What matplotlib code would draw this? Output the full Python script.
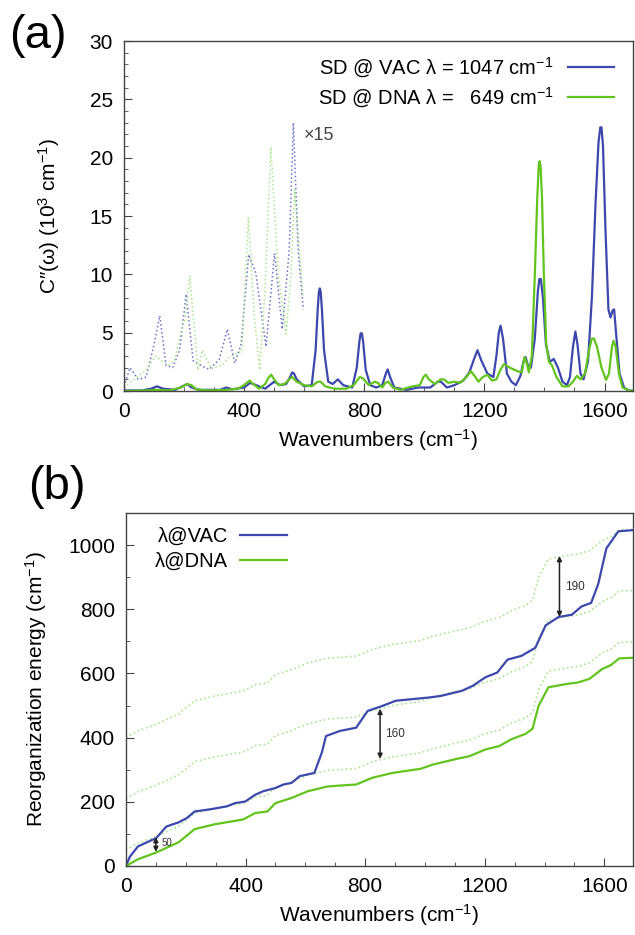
import matplotlib
matplotlib.use('Agg')
import matplotlib.pyplot as plt
from matplotlib.ticker import MultipleLocator
import numpy as np

plt.rcParams['font.family'] = ['Liberation Sans', 'DejaVu Sans']
plt.rcParams['mathtext.fontset'] = 'custom'
plt.rcParams['mathtext.rm'] = 'Liberation Sans'
plt.rcParams['mathtext.it'] = 'Liberation Sans:italic'

BLUE = '#3c48ac'
GREEN = '#62c41c'
LGREEN = '#a8e690'
LBLUE = '#6a72cc'

# ---- panel (a): spectral densities (10^3 cm-1) ----
vac_x = [0, 60, 90, 110, 130, 170, 195, 210, 225, 250, 320, 340, 360, 400, 420, 440, 470, 500, 520, 540,
         555, 560, 566, 575, 600, 625, 638, 645, 649, 652, 655, 659, 666, 680, 695, 712, 730, 760, 775, 784,
         788, 792, 796, 805, 820, 840, 860, 872, 878, 886, 900, 940, 980, 1020, 1045, 1055, 1075, 1100,
         1130, 1150, 1165, 1177, 1190, 1210, 1230, 1240, 1248, 1254, 1262, 1275, 1290, 1305, 1320, 1330,
         1337, 1345, 1355, 1368, 1378, 1383, 1388, 1395, 1405, 1418, 1431, 1445, 1460, 1475, 1485, 1495,
         1503, 1510, 1520, 1530, 1545, 1558, 1570, 1580, 1586, 1590, 1595, 1603, 1613, 1620, 1627, 1632,
         1640, 1650, 1665, 1680, 1700]
vac_y = [0.05, 0.05, 0.2, 0.4, 0.2, 0.1, 0.4, 0.6, 0.3, 0.1, 0.1, 0.3, 0.15, 0.3, 0.7, 0.5, 0.2, 0.8, 0.5, 0.6,
         1.3, 1.6, 1.5, 1.0, 0.4, 0.5, 3.5, 7.0, 8.5, 8.8, 8.5, 7.0, 3.5, 0.8, 0.6, 1.0, 0.5, 0.3, 2.0, 4.3,
         4.95, 4.95, 4.3, 1.8, 0.5, 0.3, 0.5, 1.5, 1.85, 1.2, 0.3, 0.1, 0.3, 0.3, 0.8, 0.8, 0.3, 0.5,
         0.9, 1.6, 2.7, 3.5, 2.6, 1.5, 1.2, 3.0, 5.0, 5.6, 4.5, 1.5, 0.8, 0.5, 1.3, 2.5,
         2.9, 2.2, 2.0, 4.5, 8.5, 9.6, 9.6, 8.0, 4.0, 2.5, 2.75, 2.0, 0.8, 0.5, 1.2, 3.8,
         5.1, 4.0, 1.5, 1.0, 2.5, 8.0, 16.0, 21.3, 22.6, 22.6, 21.0, 14.0, 7.0, 6.3, 6.9, 7.0,
         4.5, 1.5, 0.3, 0.05, 0.0]

dna_x = [0, 80, 110, 150, 190, 210, 225, 240, 280, 340, 380, 405, 418, 430, 450, 470, 480, 490, 500, 515,
         535, 550, 560, 575, 600, 625, 645, 655, 670, 700, 740, 765, 785, 795, 815, 835, 845, 860, 870, 880,
         895, 920, 960, 985, 997, 1005, 1015, 1035, 1055, 1065, 1080, 1100, 1120, 1140, 1155, 1170, 1180,
         1195, 1210, 1225, 1240, 1255, 1265, 1285, 1310, 1325, 1333, 1340, 1348, 1358, 1368, 1376, 1381,
         1384, 1387, 1392, 1398, 1406, 1415, 1425, 1440, 1460, 1480, 1495, 1508, 1520, 1535, 1550, 1558,
         1565, 1575, 1590, 1605, 1615, 1625, 1630, 1637, 1648, 1660, 1680, 1700]
dna_y = [0.0, 0.05, 0.1, 0.05, 0.3, 0.6, 0.5, 0.15, 0.05, 0.1, 0.2, 0.6, 0.9, 0.6, 0.2, 0.6, 1.1, 1.4, 1.0, 0.5,
         0.6, 1.0, 1.2, 0.8, 0.5, 0.4, 0.8, 0.8, 0.4, 0.2, 0.2, 0.5, 1.2, 1.1, 0.5, 0.8, 0.7, 0.3, 0.7, 0.8,
         0.3, 0.1, 0.4, 0.5, 1.2, 1.4, 1.0, 0.6, 1.0, 1.0, 0.7, 0.8, 0.7, 1.2, 1.7, 1.2, 0.8,
         1.2, 1.4, 0.9, 1.0, 1.9, 2.3, 2.0, 1.7, 1.6, 2.9, 2.5, 1.6, 3.0, 10.0, 16.5, 19.3,
         19.7, 19.3, 16.5, 10.0, 4.0, 2.5, 2.2, 1.2, 0.4, 0.4, 0.8, 1.3, 1.0, 1.5, 3.7, 4.5,
         4.5, 3.8, 2.0, 0.95, 1.5, 3.8, 4.3, 3.8, 1.5, 0.3, 0.05, 0.0]

# low-frequency part magnified x15 (already scaled values)
vac15_x = [0, 20, 47, 74, 100, 119, 140, 162, 185, 207, 230, 263, 284, 317, 344, 369, 390, 415, 439,
           473, 501, 527, 550, 564, 580, 597]
vac15_y = [0.4, 2.0, 1.0, 1.2, 4.0, 6.45, 2.2, 2.0, 3.5, 8.3, 2.6, 2.1, 1.85, 2.7, 5.3, 2.4, 4.0, 11.7, 10.1,
           3.8, 11.8, 5.3, 12.0, 23.0, 12.0, 7.0]
dna15_x = [0, 29, 74, 105, 130, 146, 168, 189, 203, 219, 246, 261, 291, 330, 351, 374, 392, 414, 435,
           452, 470, 489, 513, 540, 556, 568, 584, 596]
dna15_y = [0.3, 0.9, 1.8, 3.0, 2.5, 2.2, 2.6, 5.0, 6.1, 9.9, 1.8, 3.5, 1.9, 2.3, 2.9, 3.2, 3.4, 14.9, 6.0,
           1.8, 9.0, 20.9, 10.1, 4.9, 10.0, 17.3, 12.0, 8.1]

# ---- panel (b): cumulative reorganization energy (cm-1) ----
lvac_x = [0, 13, 40, 101, 135, 176, 203, 230, 284, 338, 365, 399, 432, 459, 500, 527, 554, 581, 630,
          655, 669, 716, 770, 808, 858, 902, 1013, 1053, 1124, 1161, 1202, 1242, 1276, 1323, 1369, 1404,
          1447, 1491, 1524, 1556, 1580, 1607, 1647, 1700]
lvac_y = [0, 29, 61, 87, 123, 136, 149, 170, 177, 186, 196, 201, 222, 233, 243, 254, 259, 280, 290,
          353, 405, 421, 431, 483, 499, 515, 525, 530, 546, 562, 588, 603, 643, 655, 680, 750,
          776, 783, 809, 820, 880, 990, 1043, 1047]
ldna_x = [0, 40, 101, 176, 230, 297, 392, 432, 473, 500, 554, 608, 675, 770, 824, 891, 986, 1026, 1107,
          1148, 1202, 1249, 1289, 1337, 1360, 1380, 1413, 1472, 1512, 1550, 1593, 1622, 1650, 1700]
ldna_y = [0, 21, 42, 74, 115, 130, 145, 165, 170, 196, 212, 233, 248, 254, 275, 290, 303, 316, 334,
          342, 363, 374, 395, 412, 428, 499, 557, 567, 572, 583, 614, 626, 647, 649]
shifts = [50, 210, 400]
arrows = [(100, 44, 90, '50'), (850, 334, 490, '160'), (1450, 776, 966, '190')]

fig = plt.figure(figsize=(6.35, 9.35), dpi=100)

# panel (a)
ax1 = fig.add_axes([0.1953, 0.5818, 0.8016, 0.3743])
ax1.plot(vac15_x, vac15_y, ':', color=LBLUE, lw=1.1)
ax1.plot(dna15_x, dna15_y, ':', color=LGREEN, lw=1.1)
ax1.plot(vac_x, vac_y, '-', color=BLUE, lw=1.6, label=r'SD @ VAC λ = 1047 cm$^{-1}$')
ax1.plot(dna_x, dna_y, '-', color=GREEN, lw=1.6, label=r'SD @ DNA λ =   649 cm$^{-1}$')
ax1.text(600, 21.9, '×15', fontsize=13, color='#444444', va='center')
ax1.set_xlim(0, 1695)
ax1.set_ylim(0, 30)
ax1.xaxis.set_major_locator(MultipleLocator(400))
ax1.xaxis.set_minor_locator(MultipleLocator(100))
ax1.yaxis.set_major_locator(MultipleLocator(5))
ax1.yaxis.set_minor_locator(MultipleLocator(1))
ax1.set_xlabel(r'Wavenumbers (cm$^{-1}$)', fontsize=15, labelpad=4)
ax1.set_ylabel(r'C″(ω) (10$^3$ cm$^{-1}$)', fontsize=15, labelpad=20)
ax1.legend(loc='upper right', frameon=False, markerfirst=False, fontsize=14.5,
           handlelength=2.3, handletextpad=0.7, labelspacing=0.3,
           borderaxespad=0.3, bbox_to_anchor=(0.99, 1.0))

# panel (b)
ax2 = fig.add_axes([0.1984, 0.0738, 0.798, 0.3775])
for s in shifts:
    ax2.plot(ldna_x, np.array(ldna_y) + s, ':', color=LGREEN, lw=1.2)
ax2.plot(lvac_x, lvac_y, '-', color=BLUE, lw=1.6, label='λ@VAC')
ax2.plot(ldna_x, ldna_y, '-', color=GREEN, lw=1.6, label='λ@DNA')
for xa, y0, y1, lab in arrows:
    ax2.annotate('', xy=(xa, y1), xytext=(xa, y0),
                 arrowprops=dict(arrowstyle='<|-|>', color='#222222', lw=1.1,
                                 mutation_scale=7, shrinkA=0, shrinkB=0))
    fs = 7 if lab == '50' else 8.5
    ax2.text(xa + 18, (y0 + y1) / 2 + (5 if lab == '50' else 0), lab, fontsize=fs,
             color='#333333', va='center')
ax2.set_xlim(0, 1695)
ax2.set_ylim(0, 1100)
ax2.xaxis.set_major_locator(MultipleLocator(400))
ax2.xaxis.set_minor_locator(MultipleLocator(100))
ax2.yaxis.set_major_locator(MultipleLocator(200))
ax2.yaxis.set_minor_locator(MultipleLocator(100))
ax2.set_xlabel(r'Wavenumbers (cm$^{-1}$)', fontsize=15, labelpad=4)
ax2.set_ylabel(r'Reorganization energy (cm$^{-1}$)', fontsize=15, labelpad=14)
ax2.legend(loc='upper left', frameon=False, markerfirst=False, fontsize=14.5,
           handlelength=2.3, handletextpad=0.6, labelspacing=0.3,
           borderaxespad=0.3, bbox_to_anchor=(0.03, 1.0))

for ax in (ax1, ax2):
    for sp in ax.spines.values():
        sp.set_color('#444444')
        sp.set_linewidth(1.0)
    ax.tick_params(which='both', direction='in', top=False, right=False, color='#444444')
    ax.tick_params(which='major', length=6, labelsize=15, pad=8)
    ax.tick_params(which='minor', length=3)

fig.text(0.015, 0.985, '(a)', fontsize=34, va='top', ha='left')
fig.text(0.045, 0.503, '(b)', fontsize=34, va='top', ha='left')

fig.savefig('out.png', dpi=100)
